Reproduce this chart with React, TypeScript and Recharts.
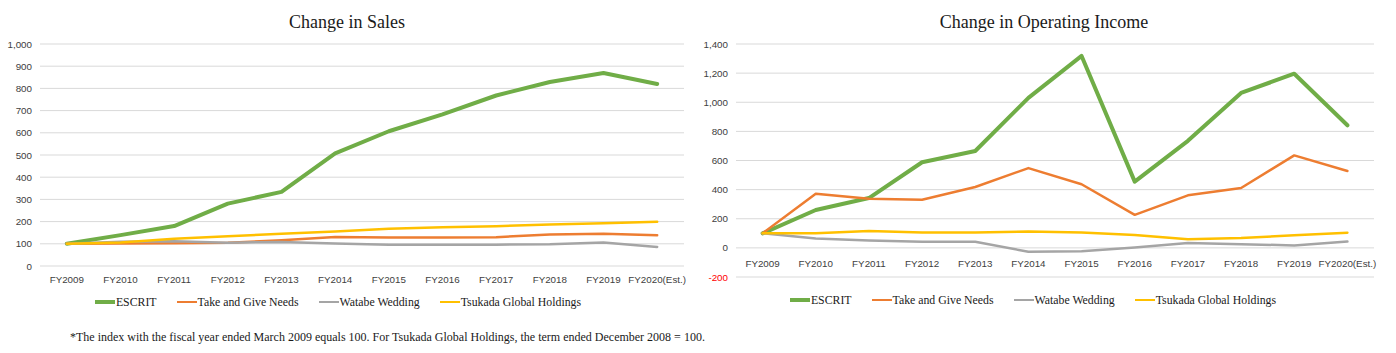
import React from 'react';
import { LineChart, Line, XAxis, YAxis, CartesianGrid, Legend } from 'recharts';

const categories = ['FY2009', 'FY2010', 'FY2011', 'FY2012', 'FY2013', 'FY2014', 'FY2015', 'FY2016', 'FY2017', 'FY2018', 'FY2019', 'FY2020(Est.)'];
const seriesNames = ['ESCRIT', 'Take and Give Needs', 'Watabe Wedding', 'Tsukada Global Holdings'];
const seriesColors = ['#70AD47', '#ED7D31', '#A5A5A5', '#FFC000'];

const salesEscrit = [100, 139, 180, 281, 334, 507, 607, 683, 768, 829, 869, 820];
const salesTakeAndGive = [100, 101, 103, 105, 116, 131, 128, 128, 130, 142, 145, 139];
const salesWatabe = [100, 109, 111, 105, 108, 101, 96, 96, 96, 98, 106, 86];
const salesTsukada = [100, 106, 123, 134, 145, 155, 168, 174, 179, 187, 193, 199];

const incomeEscrit = [100, 260, 342, 588, 665, 1030, 1318, 455, 735, 1064, 1196, 842];
const incomeTakeAndGive = [100, 372, 338, 330, 418, 548, 437, 227, 361, 411, 635, 528];
const incomeWatabe = [100, 64, 50, 42, 42, -27, -24, 3, 34, 25, 17, 43];
const incomeTsukada = [100, 100, 116, 105, 105, 112, 106, 89, 60, 68, 86, 104];

const salesTicks = [0, 100, 200, 300, 400, 500, 600, 700, 800, 900, 1000];
const incomeTicks = [-200, 0, 200, 400, 600, 800, 1000, 1200, 1400];

const titles = ['Change in Sales', 'Change in Operating Income'];
const footnote = '*The index with the fiscal year ended March 2009 equals 100. For Tsukada Global Holdings, the term ended December 2008 = 100.';

const SANS = '"Liberation Sans", Arial, sans-serif';
const SERIF = '"Liberation Serif", "Times New Roman", serif';

const buildRows = (a: number[], b: number[], c: number[], d: number[]) =>
  categories.map((cat, i) => ({ cat, s0: a[i], s1: b[i], s2: c[i], s3: d[i] }));

const salesRows = buildRows(salesEscrit, salesTakeAndGive, salesWatabe, salesTsukada);
const incomeRows = buildRows(incomeEscrit, incomeTakeAndGive, incomeWatabe, incomeTsukada);

const fmt = (v: number) => v.toLocaleString('en-US');

const makeXTick = (dy: number) => (props: any) => {
  const { x, y, payload } = props;
  return (
    <text x={x} y={y} dy={dy} textAnchor="middle" fontFamily={SANS} fontSize={9.8} fill="#404040">
      {payload.value}
    </text>
  );
};

const YTick = (props: any) => {
  const { x, y, payload } = props;
  return (
    <text x={x} y={y} dy={3.5} textAnchor="end" fontFamily={SANS} fontSize={9.8} fill={payload.value < 0 ? '#FF0000' : '#404040'}>
      {fmt(payload.value)}
    </text>
  );
};

const renderLegend = (props: any) => {
  const items = [...(props.payload || [])].sort(
    (a: any, b: any) => seriesNames.indexOf(a.value) - seriesNames.indexOf(b.value)
  );
  return (
    <div style={{ display: 'flex', justifyContent: 'center', alignItems: 'center', fontFamily: SERIF, fontSize: 11.8, color: '#1a1a1a', height: 16 }}>
      {items.map((entry: any, i: number) => {
        const idx = seriesNames.indexOf(entry.value);
        return (
          <span key={i} style={{ display: 'inline-flex', alignItems: 'center', marginRight: i < items.length - 1 ? 20 : 0, whiteSpace: 'nowrap' }}>
            <span style={{ display: 'inline-block', width: 20, height: idx === 0 ? 4 : 2.5, background: entry.color, marginRight: 1 }} />
            {entry.value}
          </span>
        );
      })}
    </div>
  );
};

const renderLines = () =>
  seriesNames.map((name, i) => (
    <Line
      key={name}
      type="linear"
      dataKey={'s' + i}
      name={name}
      stroke={seriesColors[i]}
      strokeWidth={i === 0 ? 4 : 2.5}
      strokeLinejoin="round"
      strokeLinecap="round"
      dot={false}
      activeDot={false}
      isAnimationActive={false}
      legendType="line"
    />
  ));

export default function App() {
  return (
    <div style={{ position: 'absolute', left: 0, top: 0, width: 1396, height: 353, background: '#fff', overflow: 'hidden' }}>
      <div style={{ position: 'absolute', left: 0, top: 10, width: 694, textAlign: 'center', fontFamily: SERIF, fontSize: 18, lineHeight: '24px', color: '#1a1a1a' }}>
        {titles[0]}
      </div>
      <div style={{ position: 'absolute', left: 696, top: 10, width: 696, textAlign: 'center', fontFamily: SERIF, fontSize: 18, lineHeight: '24px', color: '#1a1a1a' }}>
        {titles[1]}
      </div>

      <div style={{ position: 'absolute', left: 0, top: 0 }}>
        <LineChart width={700} height={353} data={salesRows} margin={{ top: 44, right: 16, left: 0, bottom: 57 }}>
          <CartesianGrid vertical={false} stroke="#D9D9D9" strokeWidth={1} />
          <XAxis dataKey="cat" scale="band" axisLine={false} tickLine={false} height={30} interval={0} tick={makeXTick(9)} />
          <YAxis width={40} domain={[0, 1000]} ticks={salesTicks} interval={0} axisLine={false} tickLine={false} tick={<YTick />} />
          <Legend layout="horizontal" verticalAlign="middle" align="center" content={renderLegend} wrapperStyle={{ top: 294, left: -12, width: 700, height: 16 }} />
          {renderLines()}
        </LineChart>
      </div>

      <div style={{ position: 'absolute', left: 696, top: 0 }}>
        <LineChart width={700} height={353} data={incomeRows} margin={{ top: 44, right: 22, left: 0, bottom: 56 }}>
          <CartesianGrid vertical={false} stroke="#D9D9D9" strokeWidth={1} />
          <XAxis dataKey="cat" scale="band" axisLine={false} tickLine={false} height={20} interval={0} tick={makeXTick(-18.5)} />
          <YAxis width={40} domain={[-200, 1400]} ticks={incomeTicks} interval={0} axisLine={false} tickLine={false} tick={<YTick />} />
          <Legend layout="horizontal" verticalAlign="middle" align="center" content={renderLegend} wrapperStyle={{ top: 292, left: -13, width: 700, height: 16 }} />
          {renderLines()}
        </LineChart>
      </div>

      <div style={{ position: 'absolute', left: 70, top: 330, fontFamily: SERIF, fontSize: 12, lineHeight: '14px', color: '#1a1a1a', whiteSpace: 'nowrap' }}>
        {footnote}
      </div>
    </div>
  );
}
